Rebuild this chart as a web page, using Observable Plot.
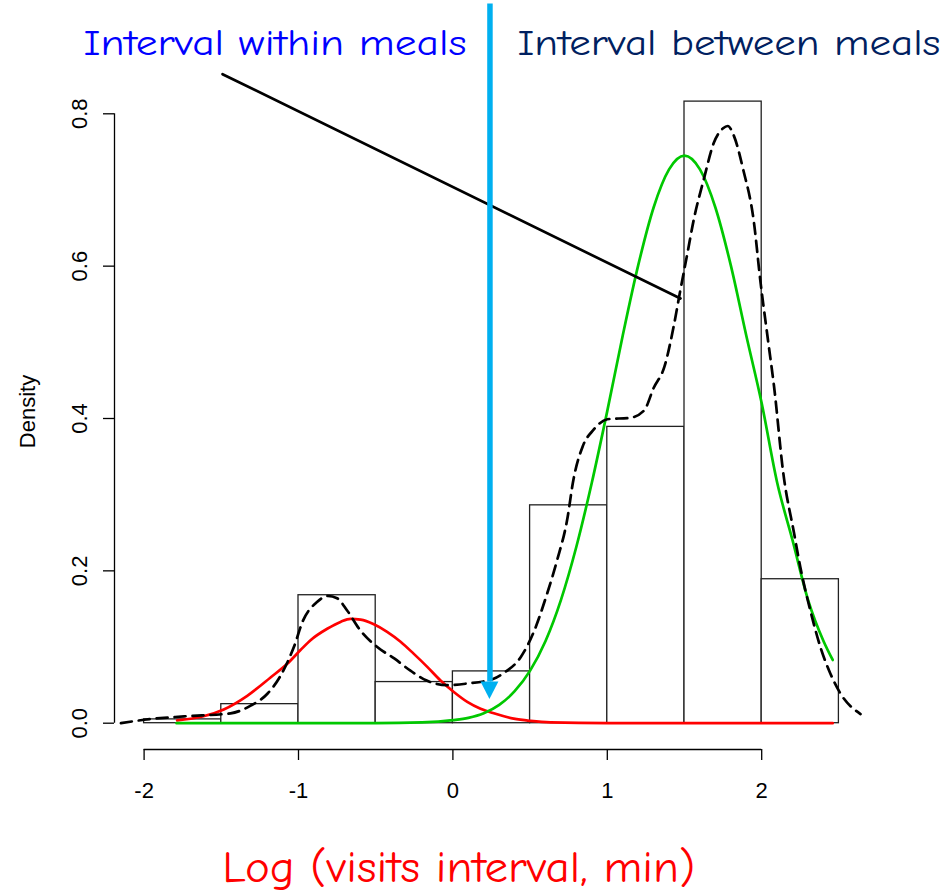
<!DOCTYPE html>
<html>
<head>
<meta charset="utf-8">
<script src="https://cdn.jsdelivr.net/npm/d3@7"></script>
<script src="https://cdn.jsdelivr.net/npm/@observablehq/plot@0.6"></script>
<style>
  html, body { margin: 0; padding: 0; background: white; }
</style>
</head>
<body>
<div id="chart"></div>
<script>
// ---------- data ----------
const binLo = [-2, -1.5, -1, -0.5, 0, 0.5, 1, 1.5, 2];
const binHi = [-1.5, -1, -0.5, 0, 0.5, 1, 1.5, 2, 2.5];
const binDensity = [0.005, 0.025, 0.168, 0.054, 0.068, 0.286, 0.389, 0.816, 0.189];

// kernel density (dashed black)
const kdeX = [-2.15, -2.0, -1.74, -1.44, -1.31, -1.20, -1.12, -1.03, -0.97, -0.88, -0.81, -0.75, -0.685, -0.60, -0.49, -0.38, -0.275, -0.17, -0.04, 0.09, 0.26, 0.33, 0.44, 0.52, 0.61, 0.675, 0.74, 0.78, 0.84, 0.91, 1.0, 1.15, 1.24, 1.30, 1.37, 1.43, 1.47, 1.52, 1.56, 1.625, 1.69, 1.75, 1.78, 1.82, 1.88, 1.95, 1.99, 2.04, 2.08, 2.14, 2.21, 2.25, 2.32, 2.38, 2.445, 2.51, 2.64];
const kdeY = [0.0, 0.0045, 0.009, 0.013, 0.023, 0.039, 0.061, 0.10, 0.135, 0.159, 0.167, 0.164, 0.148, 0.122, 0.10, 0.085, 0.069, 0.056, 0.050, 0.052, 0.058, 0.066, 0.087, 0.118, 0.170, 0.214, 0.267, 0.319, 0.363, 0.385, 0.399, 0.401, 0.411, 0.440, 0.468, 0.521, 0.565, 0.618, 0.661, 0.714, 0.762, 0.781, 0.784, 0.771, 0.727, 0.657, 0.583, 0.504, 0.442, 0.328, 0.249, 0.205, 0.144, 0.10, 0.065, 0.039, 0.012];

// within-meal component (red)
const withinX = [-1.786, -1.484, -1.332, -1.181, -1.073, -0.987, -0.922, -0.814, -0.728, -0.663, -0.598, -0.512, -0.426, -0.339, -0.253, -0.166, -0.080, 0.006, 0.093, 0.179, 0.265, 0.394, 0.503, 0.632, 1.0, 2.46];
const withinY = [0.0036, 0.018, 0.036, 0.060, 0.078, 0.096, 0.109, 0.124, 0.133, 0.137, 0.136, 0.130, 0.120, 0.107, 0.091, 0.074, 0.056, 0.041, 0.028, 0.019, 0.013, 0.006, 0.003, 0.001, 0.0, 0.0];

// between-meal component (green)
const betweenX = [-1.79, -0.5, -0.2, 0.0, 0.1, 0.2, 0.3, 0.4, 0.5, 0.6, 0.7, 0.8, 0.9, 1.0, 1.1, 1.2, 1.3, 1.4, 1.5, 1.6, 1.7, 1.8, 1.9, 2.0, 2.1, 2.2, 2.3, 2.4, 2.46];
const betweenY = [0, 0, 0.001, 0.004, 0.007, 0.013, 0.024, 0.042, 0.069, 0.108, 0.162, 0.232, 0.316, 0.41, 0.509, 0.601, 0.677, 0.727, 0.745, 0.727, 0.677, 0.601, 0.509, 0.42, 0.316, 0.24, 0.162, 0.108, 0.083];

// annotation line (black) and threshold arrow (blue)
const pointerX = [-1.492, 1.474];
const pointerY = [0.852, 0.5575];
const arrowX = 0.24;
const arrowTop = 0.944;
const arrowHeadBase = 0.054;
const arrowTip = 0.031;
const arrowHeadHalf = 0.058;

// axes
const xTicks = [-2, -1, 0, 1, 2];
const xTickLabels = ["-2", "-1", "0", "1", "2"];
const yTicks = [0, 0.2, 0.4, 0.6, 0.8];
const yTickLabels = ["0.0", "0.2", "0.4", "0.6", "0.8"];

const titleWithin = "Interval within meals";
const titleBetween = "Interval between meals";
const xTitle = "Log (visits interval, min)";
const yTitle = "Density";

// ---------- tables ----------
const bins = binLo.map((lo, i) => ({lo, hi: binHi[i], density: binDensity[i]}));
const kde = kdeX.map((x, i) => ({x, y: kdeY[i]}));
const within = withinX.map((x, i) => ({x, y: withinY[i]}));
const between = betweenX.map((x, i) => ({x, y: betweenY[i]}));
const pointer = pointerX.map((x, i) => ({x, y: pointerY[i]}));
const head = [
  {x: arrowX - arrowHeadHalf, y1: arrowHeadBase, y2: arrowHeadBase},
  {x: arrowX, y1: arrowHeadBase, y2: arrowTip},
  {x: arrowX + arrowHeadHalf, y1: arrowHeadBase, y2: arrowHeadBase}
];

const comic = "'Comic Sans MS', 'Comic Neue', 'Noto Sans', sans-serif";
const axisFont = 22;

const svg = Plot.plot({
  width: 947,
  height: 892,
  marginLeft: 114,
  marginRight: 0,
  marginTop: 0,
  marginBottom: 143,
  x: {domain: [-2, 2], range: [143.6, 761.2]},
  y: {domain: [0, 0.8], range: [722.7, 113.3]},
  style: {fontFamily: "'Liberation Sans', Arial, sans-serif", fontSize: "22px", background: "white", overflow: "visible"},
  marks: [
    Plot.rectY(bins, {x1: "lo", x2: "hi", y: "density", fill: "white", stroke: "#222", strokeWidth: 1.3}),
    Plot.line(within, {x: "x", y: "y", stroke: "#FF0000", strokeWidth: 2.7, curve: "monotone-x"}),
    Plot.line(between, {x: "x", y: "y", stroke: "#00C800", strokeWidth: 2.7, curve: "monotone-x"}),
    Plot.line(kde, {x: "x", y: "y", stroke: "black", strokeWidth: 2.7, strokeDasharray: "11,7", curve: "monotone-x"}),
    Plot.line(pointer, {x: "x", y: "y", stroke: "black", strokeWidth: 2.7}),
    Plot.ruleX([arrowX], {x: d => d, y1: arrowHeadBase, y2: arrowTop, stroke: "#00B0F0", strokeWidth: 5.5}),
    Plot.areaY(head, {x: "x", y1: "y1", y2: "y2", fill: "#00B0F0", curve: "linear"}),
    // axes (R style)
    Plot.ruleY([0], {x1: xTicks[0], x2: xTicks[xTicks.length - 1], dy: 26.3, stroke: "black", strokeWidth: 1.3}),
    Plot.ruleX([xTicks[0]], {x: d => d, y1: yTicks[0], y2: yTicks[yTicks.length - 1], dx: -29.6, stroke: "black", strokeWidth: 1.3}),
    Plot.axisX(xTicks, {tickSize: 11, strokeWidth: 1.3, label: null, tickFormat: () => ""}),
    Plot.axisY(yTicks, {tickSize: 11, strokeWidth: 1.3, label: null, tickFormat: () => ""}),
    Plot.text(xTicks, {x: d => d, y: yTicks[0], dy: 67.3, text: d => xTickLabels[xTicks.indexOf(d)],
      textAnchor: "middle", lineAnchor: "middle", fontSize: axisFont, fill: "black"}),
    Plot.text(yTicks, {x: xTicks[0], y: d => d, dx: -64.3, text: d => yTickLabels[yTicks.indexOf(d)],
      rotate: -90, textAnchor: "middle", lineAnchor: "middle", fontSize: axisFont, fill: "black"}),
    Plot.text([yTitle], {text: d => d, frameAnchor: "left", dx: -87, dy: 36.5, rotate: -90, textAnchor: "middle", lineAnchor: "middle", fontSize: axisFont, fill: "black"}),
    // annotations
    Plot.text([titleWithin], {text: d => d, frameAnchor: "top-left", dx: -31, dy: 54, textAnchor: "start", lineAnchor: "bottom", fontSize: 37, fontFamily: comic, fill: "#0000FF"}),
    Plot.text([titleBetween], {text: d => d, frameAnchor: "top-left", dx: 403, dy: 54, textAnchor: "start", lineAnchor: "bottom", fontSize: 37, fontFamily: comic, fill: "#002060"}),
    Plot.text([xTitle], {text: d => d, frameAnchor: "top-left", dx: 107.7, dy: 881.7, textAnchor: "start", lineAnchor: "bottom", fontSize: 44, fontFamily: comic, fill: "#FF0000"})
  ]
});

// fit the hand-lettered annotation widths
const fitWidths = {};
fitWidths[titleWithin] = 383;
fitWidths[titleBetween] = 423;
fitWidths[xTitle] = 473;
svg.querySelectorAll("text").forEach(t => {
  const L = fitWidths[t.textContent];
  if (L) {
    t.setAttribute("textLength", L);
    t.setAttribute("lengthAdjust", "spacingAndGlyphs");
  }
});

document.getElementById("chart").appendChild(svg);
</script>
</body>
</html>
